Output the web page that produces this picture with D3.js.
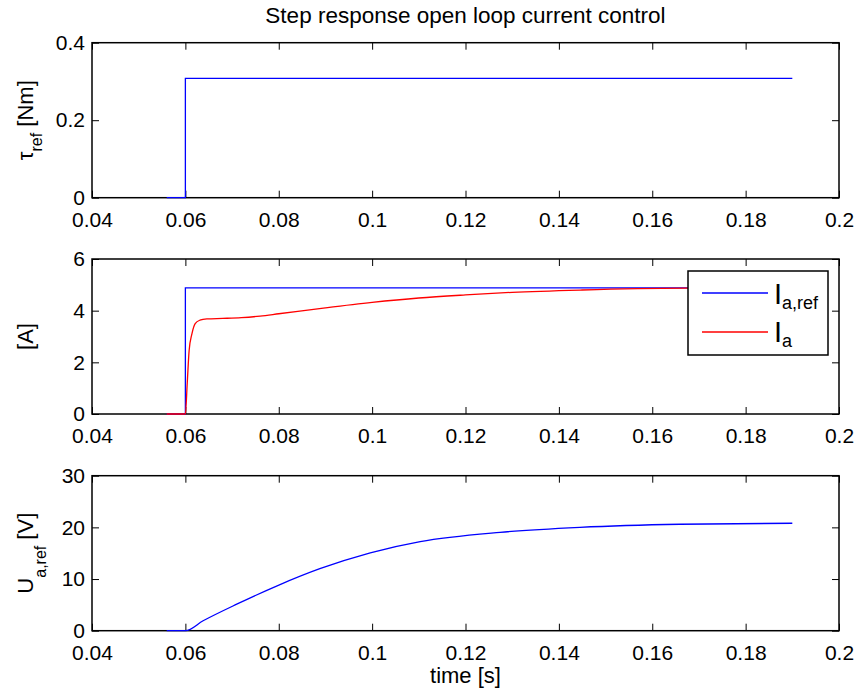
<!DOCTYPE html>
<html>
<head>
<meta charset="utf-8">
<script src="https://cdn.jsdelivr.net/npm/d3@7"></script>
<style>
  body { margin: 0; background: #fff; }
  svg { font-family: "Liberation Sans", Arial, sans-serif; }
</style>
</head>
<body>
<svg id="chart" width="858" height="698"></svg>
<script>
// data
var tauTime = [0.056, 0.06, 0.06, 0.19];
var tauRef  = [0, 0, 0.308, 0.308];

var iRefTime = [0.056, 0.06, 0.06, 0.19];
var iRef     = [0, 0, 4.88, 4.88];

var iaTime = [0.056, 0.06, 0.0604, 0.0608, 0.0614, 0.0621, 0.0631, 0.0646, 0.068, 0.072, 0.076, 0.08, 0.09, 0.1, 0.11, 0.12, 0.13, 0.145, 0.167, 0.19];
var ia     = [0, 0, 1.2, 2.45, 3.1, 3.5, 3.63, 3.68, 3.70, 3.73, 3.79, 3.88, 4.11, 4.32, 4.49, 4.61, 4.71, 4.80, 4.87, 4.88];

var uTime = [0.056, 0.06, 0.0638, 0.071, 0.0799, 0.0888, 0.0996, 0.1103, 0.1274, 0.1445, 0.1659, 0.19];
var uRef  = [0, 0, 1.92, 5.13, 8.79, 12.0, 15.08, 17.25, 19.04, 20.0, 20.6, 20.8];

var xTicks = [0.04, 0.06, 0.08, 0.1, 0.12, 0.14, 0.16, 0.18, 0.2];
var yTicks1 = [0, 0.2, 0.4];
var yTicks2 = [0, 2, 4, 6];
var yTicks3 = [0, 10, 20, 30];

var svg = d3.select('#chart');
var left = 92, right = 839, plotH = 155;
var tops = [42.7, 259, 475.7];

var x = d3.scaleLinear().domain([0.04, 0.2]).range([left, right]);

function panel(top, yDomain, yTicks, yFmt) {
	var g = svg.append('g');
	var y = d3.scaleLinear().domain(yDomain).range([top + plotH, top]);

	// bottom axis with labels, inside ticks
	g.append('g').attr('transform', 'translate(0,' + (top + plotH) + ')')
		.call(d3.axisBottom(x).tickValues(xTicks).tickSizeInner(-7).tickSizeOuter(0).tickPadding(14).tickFormat(d3.format('')))
		.call(styleAxis);
	// top mirror ticks
	g.append('g').attr('transform', 'translate(0,' + top + ')')
		.call(d3.axisTop(x).tickValues(xTicks).tickSizeInner(-7).tickSizeOuter(0).tickFormat(''))
		.call(styleAxis);
	// left axis
	g.append('g').attr('transform', 'translate(' + left + ',0)')
		.call(d3.axisLeft(y).tickValues(yTicks).tickSizeInner(-7).tickSizeOuter(0).tickPadding(7).tickFormat(yFmt))
		.call(styleAxis);
	// right mirror ticks
	g.append('g').attr('transform', 'translate(' + right + ',0)')
		.call(d3.axisRight(y).tickValues(yTicks).tickSizeInner(-7).tickSizeOuter(0).tickFormat(''))
		.call(styleAxis);

	g.append('rect')
		.attr('x', left).attr('y', top)
		.attr('width', right - left).attr('height', plotH)
		.attr('fill', 'none').attr('stroke', '#000').attr('stroke-width', 1.5);
	return {g: g, y: y};
}

function styleAxis(sel) {
	sel.select('.domain').remove();
	sel.selectAll('line').attr('stroke', '#000').attr('stroke-width', 1);
	sel.selectAll('text').attr('fill', '#000').style('font-size', '21px')
		.style('font-family', '"Liberation Sans", Arial, sans-serif');
}

function drawLine(p, xs, ys, color, curve) {
	var pts = xs.map(function (t, i) { return [t, ys[i]]; });
	var line = d3.line().x(function (d) { return x(d[0]); }).y(function (d) { return p.y(d[1]); });
	if (curve) line.curve(curve);
	p.g.append('path').datum(pts)
		.attr('d', line)
		.attr('fill', 'none').attr('stroke', color).attr('stroke-width', 1.3);
}

// ylabel: rotated text with a subscript
function yLabel(top, main, sub, rest, subDy) {
	var cy = top + plotH / 2;
	var t = svg.append('text')
		.attr('transform', 'translate(33,' + cy + ') rotate(-90)')
		.attr('text-anchor', 'middle')
		.style('font-size', '22px');
	t.append('tspan').text(main);
	if (sub) {
		t.append('tspan').attr('dy', subDy).style('font-size', '16px').text(sub);
		t.append('tspan').attr('dy', -subDy).text(rest);
	}
}

var fmt = function (d) { return String(d); };

// panel 1: torque reference
var p1 = panel(tops[0], [0, 0.4], yTicks1, fmt);
drawLine(p1, tauTime, tauRef, '#0000ff');
yLabel(tops[0], '\u03c4', 'ref', ' [Nm]', 9);

// panel 2: currents
var p2 = panel(tops[1], [0, 6], yTicks2, fmt);
drawLine(p2, iRefTime, iRef, '#0000ff');
drawLine(p2, iaTime, ia, '#ff0000', d3.curveMonotoneX);
yLabel(tops[1], '[A]');

// legend
var lg = svg.append('g');
lg.append('rect').attr('x', 688).attr('y', 271).attr('width', 140).attr('height', 84)
	.attr('fill', '#fff').attr('stroke', '#000').attr('stroke-width', 1.5);
var legendItems = [
	{color: '#0000ff', sub: 'a,ref', y: 293, base: 303.5},
	{color: '#ff0000', sub: 'a', y: 332, base: 341.7}
];
legendItems.forEach(function (d) {
	lg.append('line').attr('x1', 702).attr('x2', 768).attr('y1', d.y).attr('y2', d.y)
		.attr('stroke', d.color).attr('stroke-width', 1.3);
	var t = lg.append('text').attr('x', 774).attr('y', d.base).style('font-size', '29px');
	t.append('tspan').text('I');
	t.append('tspan').attr('dy', 5).style('font-size', '18px').text(d.sub);
});

// panel 3: voltage reference
var p3 = panel(tops[2], [0, 30], yTicks3, fmt);
drawLine(p3, uTime, uRef, '#0000ff', d3.curveMonotoneX);
yLabel(tops[2], 'U', 'a,ref', ' [V]', 13);

// title and x label
svg.append('text').attr('x', 465.5).attr('y', 23).attr('text-anchor', 'middle')
	.style('font-size', '22.5px').text('Step response open loop current control');
svg.append('text').attr('x', 465.5).attr('y', 683).attr('text-anchor', 'middle')
	.style('font-size', '22px').text('time [s]');
</script>
</body>
</html>
